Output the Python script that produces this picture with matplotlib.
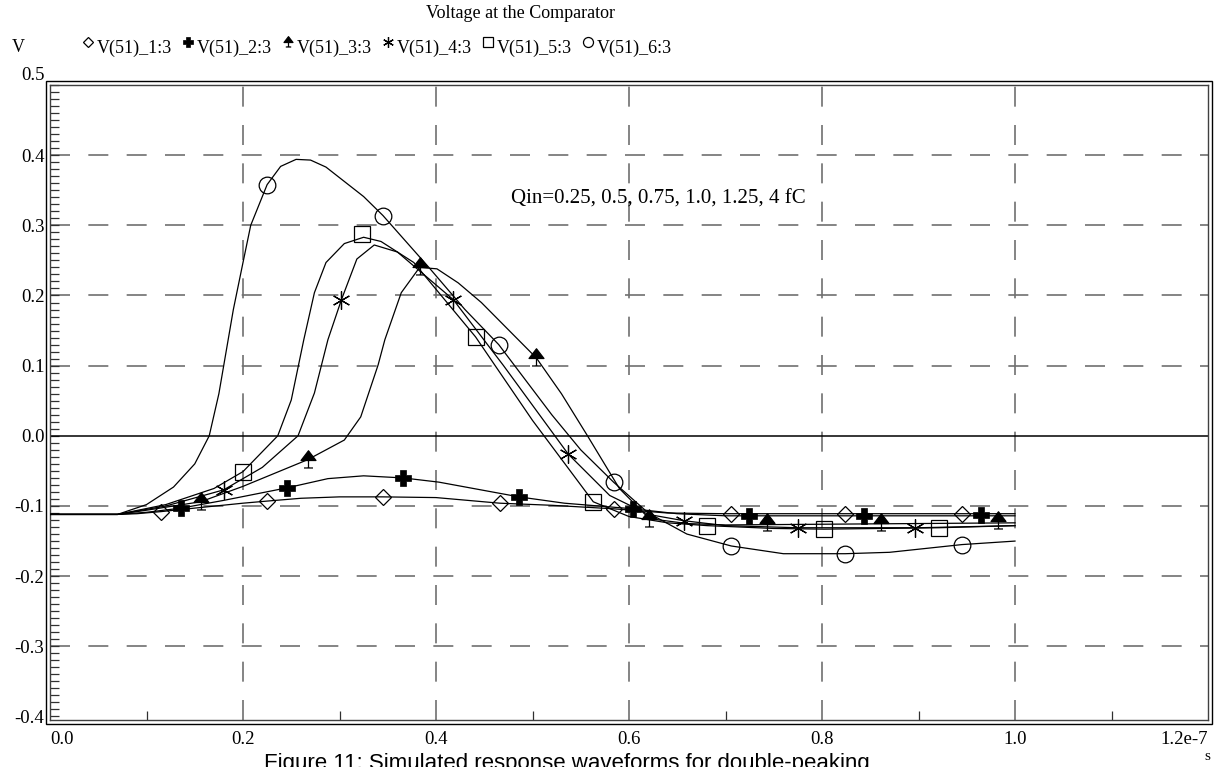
import matplotlib
matplotlib.use('Agg')
import matplotlib.pyplot as plt
import numpy as np
from matplotlib.path import Path
from matplotlib.lines import Line2D
from matplotlib.patches import Rectangle

plt.rcParams['font.family'] = ['Liberation Serif', 'DejaVu Serif']

# --- data (time in units of 1e-7 s, voltage in V) ---
labels = ['V(51)_1:3', 'V(51)_2:3', 'V(51)_3:3', 'V(51)_4:3', 'V(51)_5:3', 'V(51)_6:3']

x1 = [0.0, 0.07, 0.09, 0.115, 0.15, 0.20, 0.225, 0.26, 0.30, 0.345, 0.40, 0.466, 0.52, 0.584, 0.64, 0.70, 0.80, 0.90, 1.0]
y1 = [-0.112, -0.112, -0.111, -0.108, -0.103, -0.096, -0.093, -0.089, -0.087, -0.087, -0.088, -0.096, -0.099, -0.104, -0.110, -0.111, -0.111, -0.111, -0.111]
m1x = [0.115, 0.225, 0.345, 0.466, 0.584, 0.706, 0.824, 0.945]
m1y = [-0.108, -0.093, -0.087, -0.096, -0.104, -0.111, -0.111, -0.111]

x2 = [0.0, 0.07, 0.10, 0.136, 0.18, 0.246, 0.288, 0.325, 0.366, 0.403, 0.486, 0.533, 0.604, 0.65, 0.70, 0.80, 0.90, 1.0]
y2 = [-0.112, -0.112, -0.109, -0.103, -0.092, -0.074, -0.061, -0.057, -0.060, -0.066, -0.087, -0.096, -0.104, -0.111, -0.114, -0.114, -0.114, -0.114]
m2x = [0.136, 0.246, 0.366, 0.486, 0.604, 0.724, 0.844, 0.965]
m2y = [-0.103, -0.074, -0.060, -0.087, -0.104, -0.114, -0.114, -0.113]

x3 = [0.0, 0.07, 0.10, 0.156, 0.20, 0.267, 0.305, 0.322, 0.34, 0.347, 0.364, 0.383, 0.401, 0.423, 0.447, 0.504, 0.53, 0.557, 0.59, 0.621, 0.66, 0.70, 0.80, 0.90, 1.0]
y3 = [-0.112, -0.112, -0.106, -0.094, -0.072, -0.034, -0.006, 0.027, 0.101, 0.137, 0.204, 0.240, 0.238, 0.218, 0.190, 0.111, 0.060, 0.0, -0.075, -0.118, -0.125, -0.127, -0.126, -0.125, -0.124]
m3x = [0.156, 0.267, 0.383, 0.504, 0.621, 0.743, 0.861, 0.982]
m3y = [-0.094, -0.034, 0.240, 0.111, -0.118, -0.124, -0.124, -0.121]

x4 = [0.0, 0.07, 0.12, 0.18, 0.22, 0.257, 0.274, 0.288, 0.302, 0.318, 0.336, 0.36, 0.418, 0.47, 0.537, 0.58, 0.62, 0.657, 0.70, 0.775, 0.90, 1.0]
y4 = [-0.112, -0.112, -0.100, -0.077, -0.045, 0.0, 0.061, 0.137, 0.194, 0.252, 0.272, 0.262, 0.194, 0.10, -0.026, -0.085, -0.112, -0.121, -0.128, -0.131, -0.131, -0.128]
m4x = [0.180, 0.302, 0.418, 0.537, 0.657, 0.775, 0.896]
m4y = [-0.077, 0.194, 0.194, -0.026, -0.121, -0.131, -0.131]

x5 = [0.0, 0.07, 0.12, 0.17, 0.20, 0.236, 0.25, 0.263, 0.274, 0.286, 0.305, 0.325, 0.343, 0.377, 0.441, 0.50, 0.563, 0.60, 0.64, 0.681, 0.75, 0.802, 0.921, 1.0]
y5 = [-0.112, -0.112, -0.098, -0.075, -0.051, 0.0, 0.051, 0.137, 0.204, 0.247, 0.274, 0.283, 0.277, 0.247, 0.141, 0.022, -0.094, -0.115, -0.124, -0.128, -0.132, -0.133, -0.131, -0.128]
m5x = [0.200, 0.323, 0.441, 0.563, 0.681, 0.802, 0.921]
m5y = [-0.051, 0.288, 0.141, -0.094, -0.128, -0.133, -0.131]

x6 = [0.0, 0.07, 0.10, 0.128, 0.15, 0.165, 0.175, 0.18, 0.19, 0.20, 0.208, 0.225, 0.239, 0.255, 0.27, 0.286, 0.325, 0.345, 0.392, 0.43, 0.465, 0.52, 0.55, 0.584, 0.62, 0.66, 0.706, 0.76, 0.824, 0.87, 0.945, 1.0]
y6 = [-0.112, -0.112, -0.098, -0.073, -0.040, 0.0, 0.060, 0.100, 0.180, 0.247, 0.300, 0.358, 0.384, 0.394, 0.393, 0.383, 0.341, 0.314, 0.241, 0.180, 0.130, 0.030, -0.020, -0.066, -0.110, -0.140, -0.157, -0.168, -0.168, -0.166, -0.155, -0.150]
m6x = [0.225, 0.345, 0.465, 0.584, 0.706, 0.824, 0.945]
m6y = [0.358, 0.314, 0.130, -0.066, -0.157, -0.168, -0.155]

xticks = [0.0, 0.2, 0.4, 0.6, 0.8, 1.0, 1.2]
xticklabels = ['0.0', '0.2', '0.4', '0.6', '0.8', '1.0', '1.2e-7']
yticks = [-0.4, -0.3, -0.2, -0.1, 0.0, 0.1, 0.2, 0.3, 0.4, 0.5]
yticklabels = ['-0.4', '-0.3', '-0.2', '-0.1', '0.0', '0.1', '0.2', '0.3', '0.4', '0.5']

# triangle with a small "T" hanging under it
tri_path = Path(
    [(-1, 0.0), (1, 0.0), (0, 1.3), (-1, 0.0), (0, 0.0), (0, -1.0), (-0.6, -1.0), (0.6, -1.0)],
    [Path.MOVETO, Path.LINETO, Path.LINETO, Path.CLOSEPOLY,
     Path.MOVETO, Path.LINETO, Path.MOVETO, Path.LINETO])

styles = [
    dict(marker='D', ms=8, mfc='none', mec='black', mew=0.9),
    dict(marker='P', ms=11, mfc='black', mec='black', mew=0.5),
    dict(marker=tri_path, ms=14, mfc='black', mec='black', mew=0.9),
    dict(marker=(6, 2, 0), ms=13, mfc='black', mec='black', mew=0.9),
    dict(marker='s', ms=11, mfc='none', mec='black', mew=0.9),
    dict(marker='o', ms=12, mfc='none', mec='black', mew=0.9),
]

W, H = 1216, 767
def fx(px):
    return px / W
def fy(py):
    return 1 - py / H

fig = plt.figure(figsize=(W / 100, H / 100), dpi=100)
ax = fig.add_axes([fx(50), fy(720), (1208 - 50) / W, (720 - 85) / H])

curves = [(x1, y1, m1x, m1y), (x2, y2, m2x, m2y), (x3, y3, m3x, m3y),
          (x4, y4, m4x, m4y), (x5, y5, m5x, m5y), (x6, y6, m6x, m6y)]
for (cx, cy, mx, my), st in zip(curves, styles):
    ax.plot(cx, cy, color='black', lw=0.9, zorder=3)
    ax.plot(mx, my, ls='none', zorder=4, **st)

ax.set_xlim(0, 1.2)
ax.set_ylim(-0.405, 0.5)

# grid
for gx in [0.2, 0.4, 0.6, 0.8, 1.0]:
    ax.axvline(gx, color='#707070', lw=1.2, dashes=(12, 11), zorder=1)
for gy in [-0.3, -0.2, -0.1, 0.1, 0.2, 0.3, 0.4, 0.5]:
    ax.axhline(gy, color='#707070', lw=1.2, dashes=(12, 11), zorder=1)
ax.axhline(0.0, color='black', lw=1.1, zorder=2)

ax.set_xticks(xticks)
ax.set_xticklabels(xticklabels)
ax.set_xticks(np.arange(0.1, 1.2, 0.1), minor=True)
ax.set_yticks(yticks)
# top label is drawn separately, a little above the frame
ax.set_yticklabels(yticklabels[:-1] + [''])
ax.annotate(yticklabels[-1], xy=(0, yticks[-1]), xycoords=('axes fraction', 'data'),
            xytext=(-5, 10), textcoords='offset pixels', ha='right', va='center', fontsize=13.5)
ax.set_yticks(np.arange(-0.4, 0.5, 0.01), minor=True)
ax.tick_params(axis='both', which='both', direction='in', length=6.5, width=0.9,
               color='#303030', labelsize=13.5)
ax.tick_params(axis='x', which='both', top=False, pad=8)
ax.tick_params(axis='y', which='both', right=False, pad=4)
ax.tick_params(axis='x', which='major', length=0)
xl = ax.get_xticklabels()
xl[0].set_ha('left')
xl[-1].set_ha('right')

for sp in ax.spines.values():
    sp.set_linewidth(1.0)
    sp.set_color('#404040')

# outer frame of the double border
fig.add_artist(Rectangle((fx(46), fy(724)), (1212 - 46) / W, (724 - 81) / H,
                         transform=fig.transFigure, fill=False, ec='black', lw=1.0))

ax.text(0.478, 0.337, 'Qin=0.25, 0.5, 0.75, 1.0, 1.25, 4 fC', fontsize=15, va='center', zorder=5)

# header
fig.text(fx(520), fy(13), 'Voltage at the Comparator', ha='center', va='center', fontsize=13)
fig.text(fx(12), fy(48), 'V', ha='left', va='center', fontsize=13)
for i, (lab, st) in enumerate(zip(labels, styles)):
    x0 = 88 + 100 * i
    s = dict(st)
    s['ms'] = st['ms'] * 0.6
    fig.add_artist(Line2D([fx(x0)], [fy(42)], transform=fig.transFigure, ls='none', **s))
    fig.text(fx(x0 + 9), fy(48), lab, ha='left', va='center', fontsize=13)

fig.text(fx(1207), fy(757), 's', ha='center', va='center', fontsize=11)
fig.text(fx(567), fy(763), 'Figure 11: Simulated response waveforms for double-peaking',
         ha='center', va='center', fontsize=16, family=['Liberation Sans', 'DejaVu Sans'])

fig.savefig('out.png', dpi=100)
